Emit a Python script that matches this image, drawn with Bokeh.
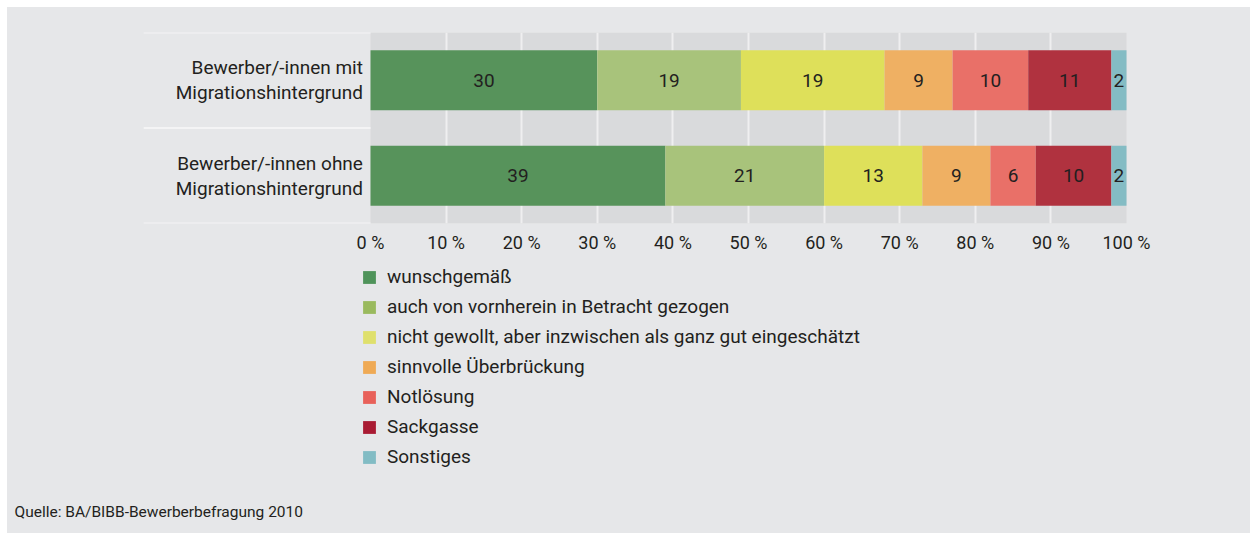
import numpy as np
from bokeh.plotting import figure
from bokeh.layouts import column
from bokeh.models import (ColumnDataSource, FactorRange, Range1d, FixedTicker,
                          Legend, LegendItem, Label)
from bokeh.core.properties import value
from bokeh.embed import file_html
from bokeh.resources import INLINE

# ---------------- data ----------------
groups = ["Bewerber/-innen mit\nMigrationshintergrund",
          "Bewerber/-innen ohne\nMigrationshintergrund"]
series_names = ["wunschgemäß",
                "auch von vornherein in Betracht gezogen",
                "nicht gewollt, aber inzwischen als ganz gut eingeschätzt",
                "sinnvolle Überbrückung",
                "Notlösung",
                "Sackgasse",
                "Sonstiges"]
values_mit = [30, 19, 19, 9, 10, 11, 2]
values_ohne = [39, 21, 13, 9, 6, 10, 2]
tick_values = [0, 10, 20, 30, 40, 50, 60, 70, 80, 90, 100]
tick_labels = ["0 %", "10 %", "20 %", "30 %", "40 %", "50 %", "60 %",
               "70 %", "80 %", "90 %", "100 %"]
source_note = "Quelle: BA/BIBB-Bewerberbefragung 2010"

colors = ["#57935b", "#a8c37b", "#dee05a", "#efb063", "#e97068", "#b0323f", "#84bcc4"]
legend_colors = ["#4f935a", "#9aba5e", "#dfe06d", "#efaa55", "#e8615a", "#a91b33", "#82bcc4"]

FONT = "Roboto"
BG = "#e6e7e9"
BAND = "#d9dadc"
TEXT = "#231f20"

# ---------------- geometry ----------------
W = 1243
H1, H2 = 255, 271
zero_px, hundred_px = 363, 1119          # where 0 % and 100 % sit in the canvas
ppu = (hundred_px - zero_px) / 100.0
x_start, x_end = -zero_px / ppu, (W - zero_px) / ppu

vals = np.array([values_mit, values_ohne], dtype=float)  # groups x series
right = np.cumsum(vals, axis=1)
left = right - vals

p = figure(width=W, height=H1, output_backend="svg", toolbar_location=None,
           x_range=Range1d(x_start, x_end),
           y_range=FactorRange(factors=list(reversed(groups)), range_padding=0),
           min_border_left=0, min_border_right=0,
           min_border_top=25, min_border_bottom=39,
           y_axis_location=None)
p.background_fill_alpha = 0
p.border_fill_color = BG
p.outline_line_color = None

# darker plot band
p.quad(left=[tick_values[0]], right=[tick_values[-1]],
       bottom=[(groups[1], -0.5)], top=[(groups[0], 0.5)],
       fill_color=BAND, line_color=None, level="image")

# grid
p.ygrid.visible = False
p.xgrid.ticker = FixedTicker(ticks=tick_values[1:-1])
p.xgrid.grid_line_color = "#efeff0"
p.xgrid.grid_line_width = 2

# separators in label area
sep_y = [(groups[0], 0.5), (groups[0], -0.5), (groups[1], -0.5)]
p.segment(x0=[-30] * 3, x1=[0] * 3, y0=sep_y, y1=sep_y,
          line_color="#f4f4f5", line_width=2)

# bars
renderers = []
for j, name in enumerate(series_names):
    src = ColumnDataSource(dict(y=groups, left=left[:, j], right=right[:, j],
                                v=[str(int(x)) for x in vals[:, j]],
                                c=(left[:, j] + right[:, j]) / 2))
    r = p.hbar(y="y", left="left", right="right", height=0.63, source=src,
               fill_color=colors[j], line_color=None)
    renderers.append(r)
    p.text(x="c", y="y", text="v", source=src, text_align="center",
           text_baseline="middle", text_font=value(FONT), text_font_size="19px",
           text_color=TEXT)

# group labels
p.text(x=[-1, -1], y=groups, text=groups, text_align="right", text_baseline="middle",
       text_font=value(FONT), text_font_size="19px", text_color=TEXT,
       text_line_height=1.1)

# x axis
ax = p.xaxis[0]
ax.ticker = FixedTicker(ticks=tick_values)
ax.major_label_overrides = {v: l for v, l in zip(tick_values, tick_labels)}
ax.axis_line_color = None
ax.major_tick_line_color = None
ax.minor_tick_line_color = None
ax.major_label_standoff = 2
ax.major_label_text_font = FONT
ax.major_label_text_font_size = "18px"
ax.major_label_text_color = TEXT

# ---------------- legend + source figure ----------------
p2 = figure(width=W, height=H2, output_backend="svg", toolbar_location=None,
            x_range=Range1d(0, W), y_range=Range1d(0, H2),
            min_border=0, x_axis_location=None, y_axis_location=None)
p2.background_fill_alpha = 0
p2.border_fill_color = BG
p2.outline_line_color = None
p2.grid.visible = False

# legend swatches (kept outside the visible range; only their legend glyphs show)
leg_renderers = []
for j, name in enumerate(series_names):
    leg_renderers.append(p2.hbar(y=[-1000], left=[0], right=[1], height=1,
                                 fill_color=legend_colors[j], line_color=None))

legend = Legend(items=[LegendItem(label=n, renderers=[r]) for n, r in zip(series_names, leg_renderers)],
                location=(zero_px - 9, 65), orientation="vertical",
                glyph_width=16, glyph_height=16, label_standoff=10,
                spacing=7, padding=0, margin=0, label_height=20,
                border_line_color=None, background_fill_alpha=0,
                label_text_font=FONT, label_text_font_size="19px",
                label_text_color=TEXT)
p2.add_layout(legend, "center")

p2.add_layout(Label(x=7, y=22, x_units="screen", y_units="screen",
                    text=source_note, text_font=FONT, text_font_size="15.5px",
                    text_color=TEXT, text_baseline="middle"))

layout = column(p, p2, spacing=0, margin=(7, 0, 0, 7),
                styles={"background-color": BG})

open("out.html", "w").write(file_html(layout, INLINE))
